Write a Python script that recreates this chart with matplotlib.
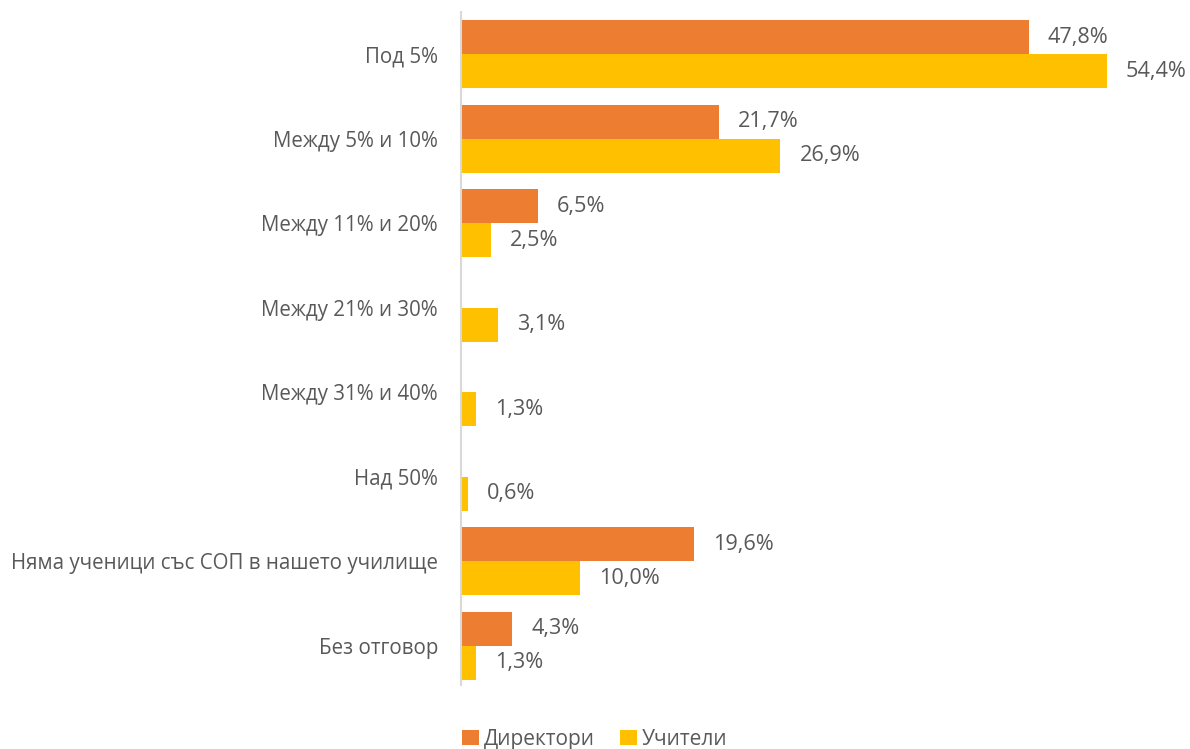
import numpy as np
import matplotlib.pyplot as plt

plt.rcParams['font.family'] = ['Open Sans', 'DejaVu Sans']

# данни
categories = ['Под 5%', 'Между 5% и 10%', 'Между 11% и 20%', 'Между 21% и 30%',
              'Между 31% и 40%', 'Над 50%', 'Няма ученици със СОП в нашето училище',
              'Без отговор']
directors = [47.8, 21.7, 6.5, 0, 0, 0, 19.6, 4.3]
teachers = [54.4, 26.9, 2.5, 3.1, 1.3, 0.6, 10.0, 1.3]

c_dir = '#ED7D31'
c_teach = '#FFC000'
txt = '#595959'

fig = plt.figure(figsize=(11.9, 7.49), dpi=100)
ax = fig.add_axes([461 / 1190, 1 - 688 / 749, (60 * 11.875) / 1190, 676 / 749])

y = np.arange(len(categories))
h = 0.4
b1 = ax.barh(y - h / 2, directors, height=h, color=c_dir, label='Директори')
b2 = ax.barh(y + h / 2, teachers, height=h, color=c_teach, label='Учители')

# етикети на стойностите
for bars, vals in ((b1, directors), (b2, teachers)):
    for bar, v in zip(bars, vals):
        if v == 0:
            continue
        ax.annotate(f'{v:.1f}%'.replace('.', ','),
                    (bar.get_width(), bar.get_y() + bar.get_height() / 2),
                    xytext=(19, 0), textcoords='offset pixels',
                    ha='left', va='center', fontsize=15.6, color=txt)

ax.set_xlim(0, 60)
ax.set_ylim(len(categories) - 0.5, -0.5)
ax.set_yticks(y)
ax.set_yticklabels(categories, fontsize=14.8, color=txt)
ax.tick_params(axis='y', length=0, pad=16.5)
ax.set_xticks([])
for s in ['top', 'right', 'bottom']:
    ax.spines[s].set_visible(False)
ax.spines['left'].set_color('#D9D9D9')
ax.spines['left'].set_linewidth(1.5)
ax.spines['left'].set_bounds(len(categories) - 0.54, -0.5)

fig.legend(handles=[b1, b2], loc='lower center', bbox_to_anchor=(0.5, -0.026),
           ncol=2, frameon=False, fontsize=15, labelcolor=txt,
           handlelength=0.8, handleheight=0.8, handletextpad=0.25, columnspacing=1.2)

fig.savefig('out.png', dpi=100)
